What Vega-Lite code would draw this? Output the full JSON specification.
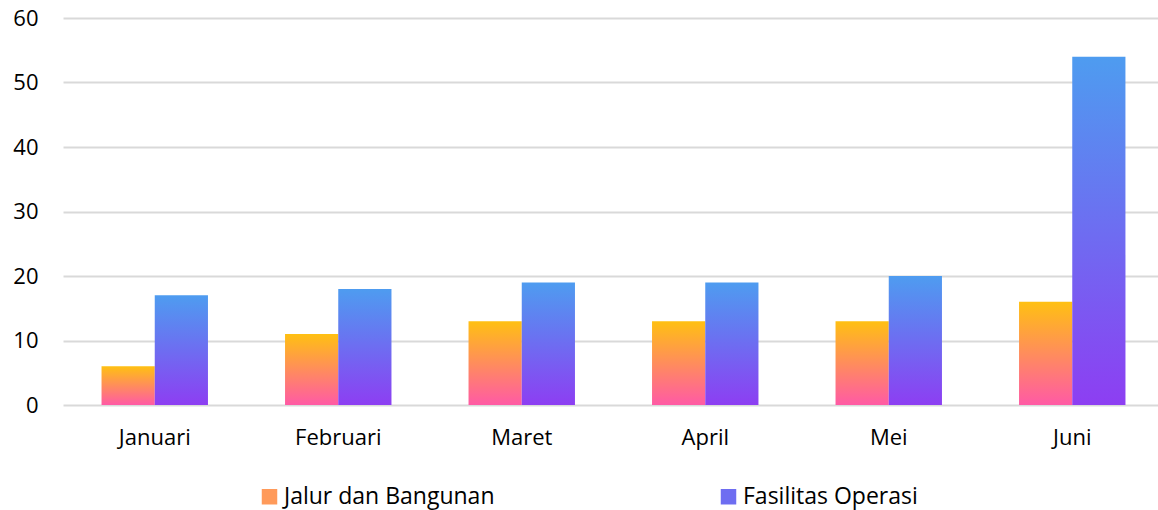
{
  "$schema": "https://vega.github.io/schema/vega-lite/v6.json",
  "width": 1101,
  "height": 387,
  "autosize": {"type": "none"},
  "padding": {"left": 63, "top": 18, "right": 0, "bottom": 105},
  "background": "white",
  "data": {
    "values": [
      {"bulan": "Januari", "kategori": "Jalur dan Bangunan", "nilai": 6},
      {"bulan": "Januari", "kategori": "Fasilitas Operasi", "nilai": 17},
      {"bulan": "Februari", "kategori": "Jalur dan Bangunan", "nilai": 11},
      {"bulan": "Februari", "kategori": "Fasilitas Operasi", "nilai": 18},
      {"bulan": "Maret", "kategori": "Jalur dan Bangunan", "nilai": 13},
      {"bulan": "Maret", "kategori": "Fasilitas Operasi", "nilai": 19},
      {"bulan": "April", "kategori": "Jalur dan Bangunan", "nilai": 13},
      {"bulan": "April", "kategori": "Fasilitas Operasi", "nilai": 19},
      {"bulan": "Mei", "kategori": "Jalur dan Bangunan", "nilai": 13},
      {"bulan": "Mei", "kategori": "Fasilitas Operasi", "nilai": 20},
      {"bulan": "Juni", "kategori": "Jalur dan Bangunan", "nilai": 16},
      {"bulan": "Juni", "kategori": "Fasilitas Operasi", "nilai": 54}
    ]
  },
  "encoding": {
    "x": {
      "field": "bulan",
      "type": "nominal",
      "sort": ["Januari", "Februari", "Maret", "April", "Mei", "Juni"],
      "scale": {"paddingInner": 0.42, "paddingOuter": 0.21},
      "axis": {
        "title": null,
        "labelAngle": 0,
        "ticks": false,
        "domain": false,
        "labelPadding": 22,
        "labelFont": "Open Sans",
        "labelFontSize": 22,
        "labelColor": "#000000"
      }
    },
    "xOffset": {
      "field": "kategori",
      "type": "nominal",
      "scale": {"domain": ["Jalur dan Bangunan", "Fasilitas Operasi"], "paddingInner": 0, "paddingOuter": 0}
    },
    "y": {
      "field": "nilai",
      "type": "quantitative",
      "scale": {"domain": [0, 60], "nice": false},
      "axis": {
        "title": null,
        "values": [0, 10, 20, 30, 40, 50, 60],
        "ticks": false,
        "domain": false,
        "labelPadding": 25,
        "labelFont": "Open Sans",
        "labelFontSize": 22,
        "labelColor": "#000000",
        "gridColor": "#d9d9d9",
        "gridWidth": 2
      }
    }
  },
  "layer": [
    {
      "mark": {"type": "bar", "opacity": 0},
      "encoding": {
        "color": {
          "field": "kategori",
          "type": "nominal",
          "scale": {"domain": ["Jalur dan Bangunan", "Fasilitas Operasi"], "range": ["#FF9A5A", "#6E6DF1"]},
          "legend": {
            "title": null,
            "orient": "none",
            "direction": "horizontal",
            "legendX": 195,
            "legendY": 467,
            "symbolType": "square",
            "symbolSize": 240,
            "symbolStrokeWidth": 0,
            "symbolOpacity": 1,
            "labelFont": "Open Sans",
            "labelFontSize": 23,
            "labelColor": "#000000",
            "labelOffset": 3,
            "labelLimit": 400,
            "columnPadding": 222
          }
        }
      }
    },
    {
      "transform": [{"filter": "datum.kategori === 'Jalur dan Bangunan'"}],
      "mark": {
        "type": "bar",
        "color": {"gradient": "linear", "x1": 0, "y1": 0, "x2": 0, "y2": 1, "stops": [{"offset": 0, "color": "#FFC012"}, {"offset": 1, "color": "#FF5AA5"}]}
      }
    },
    {
      "transform": [{"filter": "datum.kategori === 'Fasilitas Operasi'"}],
      "mark": {
        "type": "bar",
        "color": {"gradient": "linear", "x1": 0, "y1": 0, "x2": 0, "y2": 1, "stops": [{"offset": 0, "color": "#4E9CF0"}, {"offset": 1, "color": "#8D3EF2"}]}
      }
    }
  ],
  "config": {"view": {"stroke": null}}
}
